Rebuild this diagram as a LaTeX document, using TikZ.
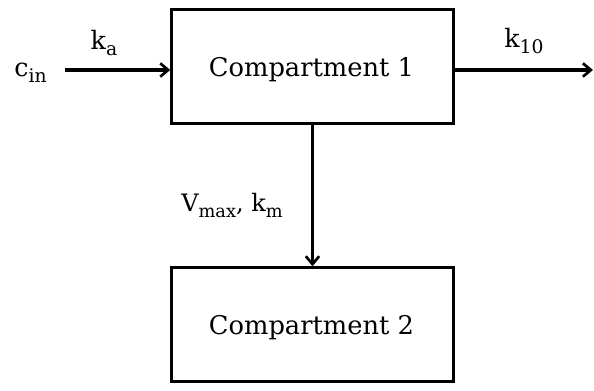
\documentclass[tikz,border=0pt]{standalone}
\usepackage{fontspec}
\setmainfont{DejaVu Serif}
\usetikzlibrary{arrows.meta}
\newcommand\lowsub[1]{\raisebox{-0.45ex}{\fontsize{0.74\dimexpr\csname f@size\endcsname pt\relax}{10}\selectfont #1}}
\begin{document}
\begin{tikzpicture}[x=0.75pt,y=-0.75pt,
  comp/.style={draw,line width=2.3pt,minimum width=211pt,minimum height=85pt,inner sep=0pt},
  ctext/.style={font=\fontsize{19.3}{22}\selectfont,inner sep=0pt,anchor=base},
  flow/.style={line width=2.3pt,-{Straight Barb[length=6pt,width=10pt,line width=2pt]}},
  lbl/.style={font=\fontsize{19}{22}\selectfont,inner sep=0pt,anchor=base}]
\useasboundingbox (0,0) rectangle (594,391);
\node[comp] (c1) at (312.5,66.5) {};
\node[comp] (c2) at (312.5,324.5) {};
\node[ctext] (t1) at (311.5,77) {Compartment 1};
\node[ctext] (t2) at (311.5,335) {Compartment 2};
\coordinate (in) at (65,70);
\coordinate (out) at (593,70);
\draw[flow] (in) -- (in -| c1.west);
\draw[flow] (out -| c1.east) -- (out);
\draw[flow] (c1.south) -- (c2.north);
\node[lbl] (cin) at (30.5,77) {c\lowsub{in}};
\node[lbl] (ka) at (104,50) {k\lowsub{a}};
\node[lbl] (k10) at (524,48) {k\lowsub{10}};
\node[lbl,font=\fontsize{18}{21}\selectfont] (vm) at (232,212) {V\lowsub{max}, k\lowsub{m}};
\end{tikzpicture}
\end{document}
